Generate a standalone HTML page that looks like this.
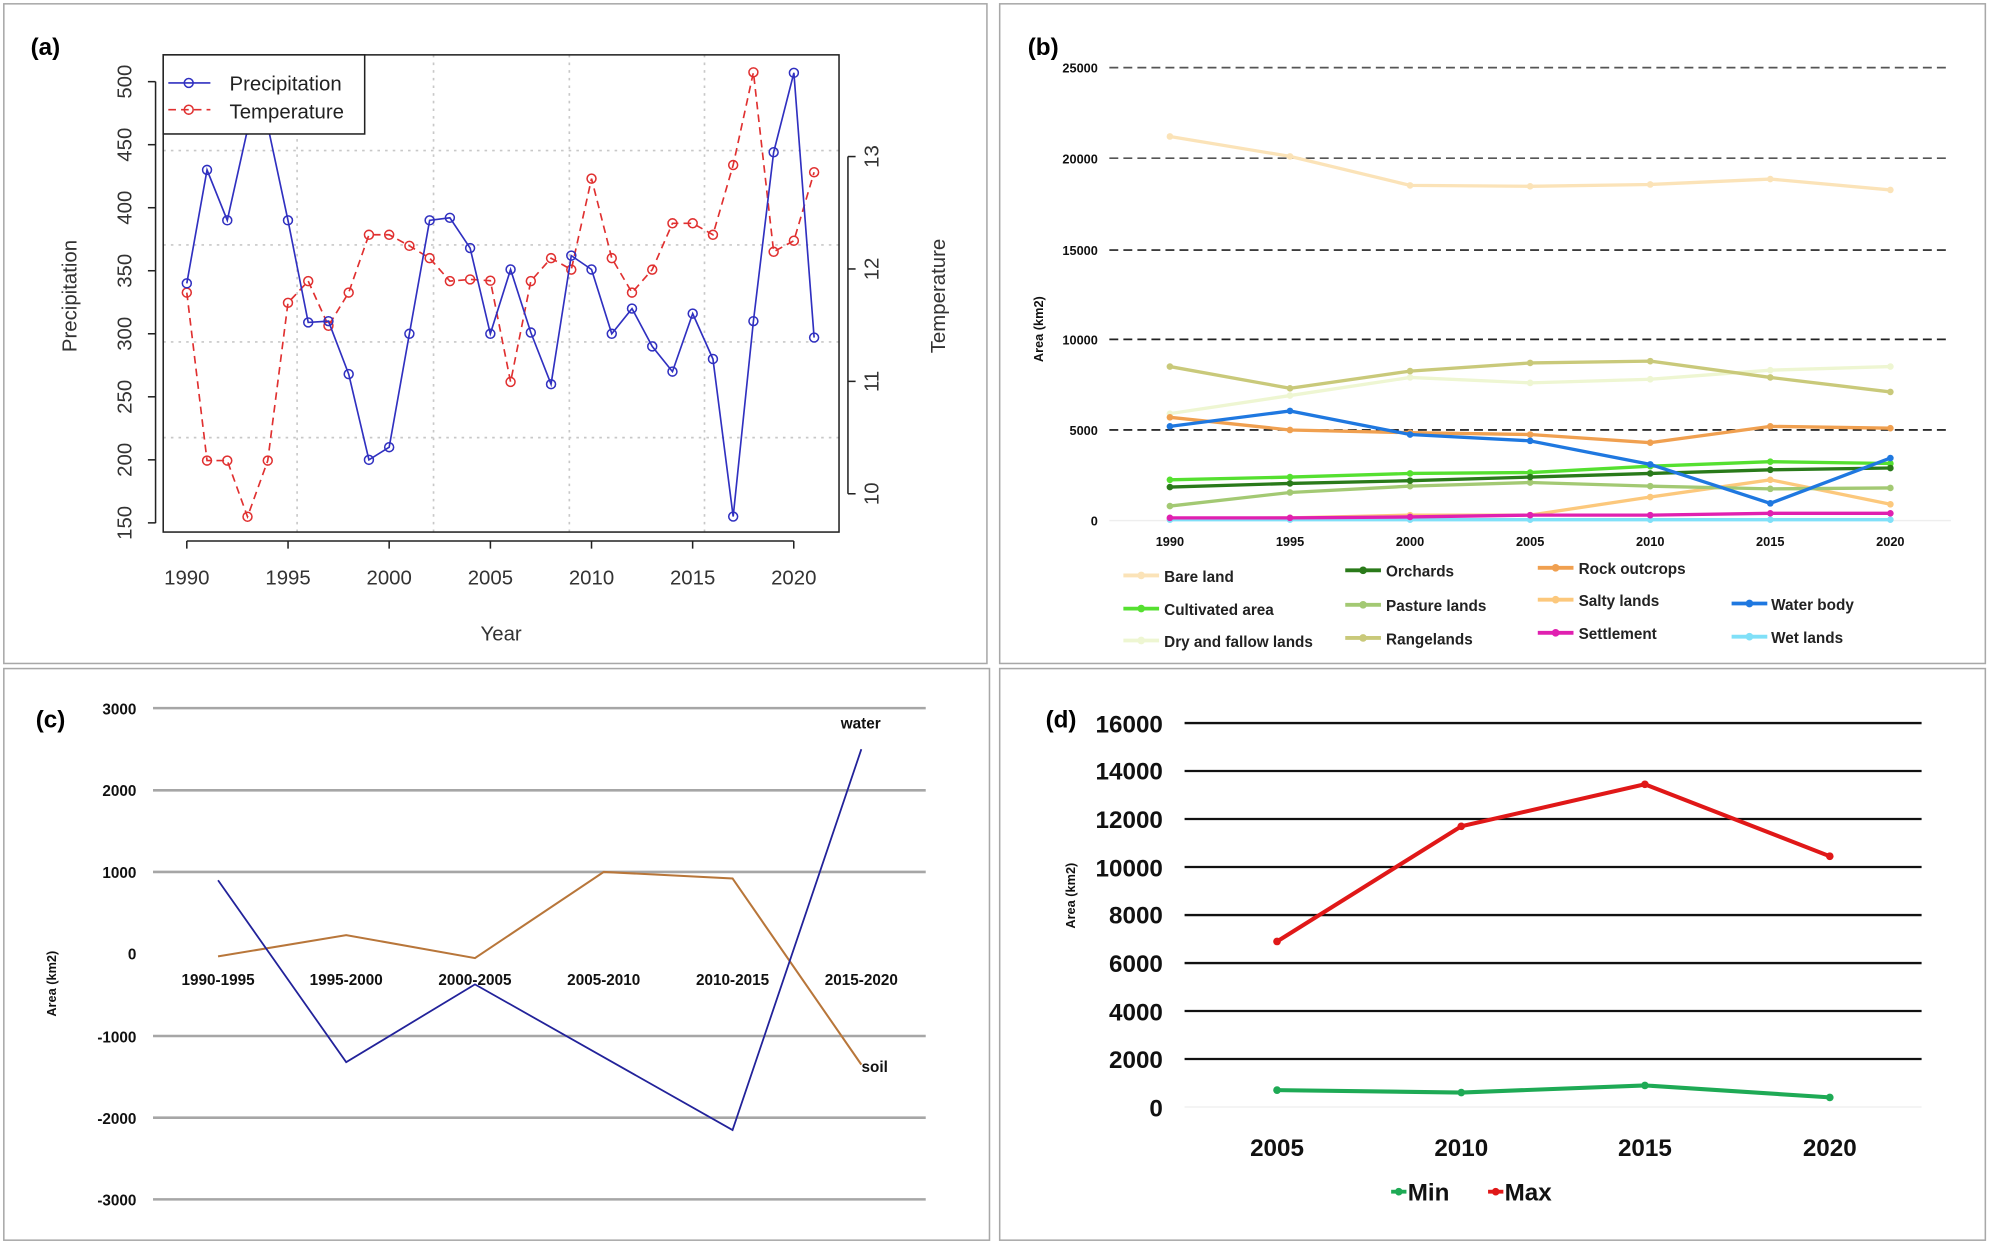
<!DOCTYPE html>
<html><head><meta charset="utf-8"><style>
html,body{margin:0;padding:0;background:#fff;}
svg{display:block;}
text{font-family:"Liberation Sans",sans-serif;}
</style></head><body>
<svg id="s" width="1993" height="1244" viewBox="0 0 1563 975" preserveAspectRatio="none" xmlns="http://www.w3.org/2000/svg">
<rect width="1563" height="975" fill="#fff"/>
<g fill="none" stroke="#a8a8a8" stroke-width="1.2">
<rect x="3" y="3" width="771" height="517"/>
<rect x="784" y="3" width="773" height="517"/>
<rect x="3" y="524" width="773" height="448"/>
<rect x="784" y="524" width="773" height="448"/>
</g>

<!-- ===== Panel (a) ===== -->
<text x="24" y="43" font-size="19" font-weight="bold" fill="#000">(a)</text>
<g stroke="#c8c8c8" stroke-width="1.3" stroke-dasharray="2,4">
<line x1="233" y1="43" x2="233" y2="417"/><line x1="340" y1="43" x2="340" y2="417"/>
<line x1="446.5" y1="43" x2="446.5" y2="417"/><line x1="552.5" y1="43" x2="552.5" y2="417"/>
<line x1="128" y1="118" x2="658" y2="118"/><line x1="128" y1="192" x2="658" y2="192"/>
<line x1="128" y1="268" x2="658" y2="268"/><line x1="128" y1="343" x2="658" y2="343"/>
</g>
<g id="aSeries"></g>
<rect x="128" y="43" width="530" height="374" fill="none" stroke="#222" stroke-width="1.2"/>
<rect x="128" y="43" width="158" height="62" fill="#fff" stroke="#222" stroke-width="1.2"/>
<line x1="132" y1="65" x2="165" y2="65" stroke="#3030c0" stroke-width="1.3"/>
<circle cx="148" cy="65" r="3.5" fill="none" stroke="#3030c0" stroke-width="1.2"/>
<line x1="132" y1="86" x2="165" y2="86" stroke="#e03030" stroke-width="1.3" stroke-dasharray="6,4"/>
<circle cx="148" cy="86" r="3.5" fill="none" stroke="#e03030" stroke-width="1.2"/>
<text x="180" y="71" font-size="16" fill="#222">Precipitation</text>
<text x="180" y="93" font-size="16" fill="#222">Temperature</text>
<g stroke="#222" stroke-width="1.2">
<line x1="122" y1="64" x2="122" y2="410"/>
<line x1="116" y1="64" x2="122" y2="64"/><line x1="116" y1="113.4" x2="122" y2="113.4"/>
<line x1="116" y1="162.8" x2="122" y2="162.8"/><line x1="116" y1="212.2" x2="122" y2="212.2"/>
<line x1="116" y1="261.6" x2="122" y2="261.6"/><line x1="116" y1="311" x2="122" y2="311"/>
<line x1="116" y1="360.4" x2="122" y2="360.4"/><line x1="116" y1="409.8" x2="122" y2="409.8"/>
<line x1="665" y1="122.7" x2="665" y2="387"/>
<line x1="665" y1="122.7" x2="671" y2="122.7"/><line x1="665" y1="210.8" x2="671" y2="210.8"/>
<line x1="665" y1="298.9" x2="671" y2="298.9"/><line x1="665" y1="387" x2="671" y2="387"/>
<line x1="146.5" y1="424" x2="622.5" y2="424"/>
<line x1="146.5" y1="424" x2="146.5" y2="430"/><line x1="225.9" y1="424" x2="225.9" y2="430"/>
<line x1="305.2" y1="424" x2="305.2" y2="430"/><line x1="384.6" y1="424" x2="384.6" y2="430"/>
<line x1="463.9" y1="424" x2="463.9" y2="430"/><line x1="543.2" y1="424" x2="543.2" y2="430"/>
<line x1="622.5" y1="424" x2="622.5" y2="430"/>
</g>
<g font-size="16" fill="#333" text-anchor="middle">
<text transform="translate(103,64) rotate(-90)">500</text>
<text transform="translate(103,113.4) rotate(-90)">450</text>
<text transform="translate(103,162.8) rotate(-90)">400</text>
<text transform="translate(103,212.2) rotate(-90)">350</text>
<text transform="translate(103,261.6) rotate(-90)">300</text>
<text transform="translate(103,311) rotate(-90)">250</text>
<text transform="translate(103,360.4) rotate(-90)">200</text>
<text transform="translate(103,409.8) rotate(-90)">150</text>
<text transform="translate(60,232) rotate(-90)">Precipitation</text>
<text transform="translate(689,122.7) rotate(-90)">13</text>
<text transform="translate(689,210.8) rotate(-90)">12</text>
<text transform="translate(689,298.9) rotate(-90)">11</text>
<text transform="translate(689,387) rotate(-90)">10</text>
<text transform="translate(741,232) rotate(-90)">Temperature</text>
<text x="146.5" y="458">1990</text><text x="225.9" y="458">1995</text>
<text x="305.2" y="458">2000</text><text x="384.6" y="458">2005</text>
<text x="463.9" y="458">2010</text><text x="543.2" y="458">2015</text>
<text x="622.5" y="458">2020</text>
<text x="393" y="502">Year</text>
</g>

<!-- ===== Panel (b) ===== -->
<text x="806" y="43" font-size="19" font-weight="bold">(b)</text>
<g stroke="#555" stroke-width="1.3" stroke-dasharray="7,4">
<line x1="870" y1="53" x2="1530" y2="53"/><line x1="870" y1="124" x2="1530" y2="124"/>
<line x1="870" y1="196" x2="1530" y2="196" stroke="#222"/><line x1="870" y1="266" x2="1530" y2="266" stroke="#222"/>
<line x1="870" y1="337" x2="1530" y2="337" stroke="#111"/>
</g>
<line x1="870" y1="408" x2="1530" y2="408" stroke="#eee" stroke-width="1"/>
<g font-size="10" font-weight="bold" text-anchor="end" fill="#111">
<text x="861" y="57">25000</text><text x="861" y="128">20000</text><text x="861" y="200">15000</text>
<text x="861" y="270">10000</text><text x="861" y="341">5000</text><text x="861" y="412">0</text>
</g>
<g font-size="10" font-weight="bold" text-anchor="middle" fill="#111">
<text x="917.5" y="428">1990</text><text x="1011.7" y="428">1995</text><text x="1105.8" y="428">2000</text>
<text x="1200" y="428">2005</text><text x="1294.2" y="428">2010</text><text x="1388.3" y="428">2015</text>
<text x="1482.5" y="428">2020</text>
<text transform="translate(818,258) rotate(-90)" font-size="10">Area (km2)</text>
</g>
<g id="bSeries"></g>
<g font-size="12" font-weight="bold" fill="#222">
<text x="913" y="456">Bare land</text><text x="1087" y="452">Orchards</text><text x="1238" y="450">Rock outcrops</text>
<text x="913" y="482">Cultivated area</text><text x="1087" y="479">Pasture lands</text><text x="1238" y="475">Salty lands</text><text x="1389" y="478">Water body</text>
<text x="913" y="507">Dry and fallow lands</text><text x="1087" y="505">Rangelands</text><text x="1238" y="501">Settlement</text><text x="1389" y="504">Wet lands</text>
</g>
<g id="bLegend"></g>

<!-- ===== Panel (c) ===== -->
<text x="28" y="570" font-size="19" font-weight="bold">(c)</text>
<g stroke="#a6a6a6" stroke-width="2">
<line x1="120" y1="555" x2="726" y2="555"/><line x1="120" y1="619.4" x2="726" y2="619.4"/>
<line x1="120" y1="683.4" x2="726" y2="683.4"/><line x1="120" y1="812" x2="726" y2="812"/>
<line x1="120" y1="876" x2="726" y2="876"/><line x1="120" y1="940" x2="726" y2="940"/>
</g>
<g font-size="12" font-weight="bold" text-anchor="end" fill="#111">
<text x="107" y="560">3000</text><text x="107" y="624">2000</text><text x="107" y="688">1000</text>
<text x="107" y="752">0</text><text x="107" y="817">-1000</text><text x="107" y="881">-2000</text><text x="107" y="945">-3000</text>
</g>
<g font-size="12" font-weight="bold" text-anchor="middle" fill="#111">
<text x="171" y="772">1990-1995</text><text x="271.5" y="772">1995-2000</text><text x="372.5" y="772">2000-2005</text>
<text x="473.5" y="772">2005-2010</text><text x="574.5" y="772">2010-2015</text><text x="675.5" y="772">2015-2020</text>
<text transform="translate(44,771) rotate(-90)" font-size="10">Area (km2)</text>
<text x="675" y="571">water</text><text x="686" y="840">soil</text>
</g>
<polyline fill="none" stroke="#b8763a" stroke-width="1.6" points="171,749.6 271.5,732.9 372.5,750.9 473.5,683.4 574.5,688.5 675.5,834.4"/>
<polyline fill="none" stroke="#22229a" stroke-width="1.4" points="171,689.9 271.5,832.5 372.5,771.5 574.5,885.7 675.5,587.2"/>

<!-- ===== Panel (d) ===== -->
<text x="820" y="570" font-size="19" font-weight="bold">(d)</text>
<g stroke="#111" stroke-width="1.8">
<line x1="929" y1="566.7" x2="1507" y2="566.7"/><line x1="929" y1="604.3" x2="1507" y2="604.3"/>
<line x1="929" y1="641.9" x2="1507" y2="641.9"/><line x1="929" y1="679.5" x2="1507" y2="679.5"/>
<line x1="929" y1="717.2" x2="1507" y2="717.2"/><line x1="929" y1="754.8" x2="1507" y2="754.8"/>
<line x1="929" y1="792.4" x2="1507" y2="792.4"/><line x1="929" y1="830" x2="1507" y2="830"/>
</g>
<line x1="929" y1="867.6" x2="1507" y2="867.6" stroke="#eee" stroke-width="1"/>
<g font-size="19" font-weight="bold" text-anchor="end" fill="#111">
<text x="912" y="574">16000</text><text x="912" y="611">14000</text><text x="912" y="649">12000</text>
<text x="912" y="687">10000</text><text x="912" y="724">8000</text><text x="912" y="762">6000</text>
<text x="912" y="800">4000</text><text x="912" y="837">2000</text><text x="912" y="875">0</text>
</g>
<g font-size="19" font-weight="bold" text-anchor="middle" fill="#111">
<text x="1001.5" y="906">2005</text><text x="1146" y="906">2010</text><text x="1290" y="906">2015</text><text x="1435" y="906">2020</text>
<text transform="translate(843,702) rotate(-90)" font-size="10">Area (km2)</text>
</g>
<polyline fill="none" stroke="#e01818" stroke-width="3.2" points="1001.5,737.9 1146,647.6 1290,614.7 1435,671.1"/>
<polyline fill="none" stroke="#1eaa55" stroke-width="3.2" points="1001.5,854.4 1146,856.3 1290,850.7 1435,860.1"/>
<g fill="#e01818"><circle cx="1001.5" cy="737.9" r="3"/><circle cx="1146" cy="647.6" r="3"/><circle cx="1290" cy="614.7" r="3"/><circle cx="1435" cy="671.1" r="3"/></g>
<g fill="#1eaa55"><circle cx="1001.5" cy="854.4" r="3"/><circle cx="1146" cy="856.3" r="3"/><circle cx="1290" cy="850.7" r="3"/><circle cx="1435" cy="860.1" r="3"/></g>
<line x1="1091" y1="934" x2="1103" y2="934" stroke="#1eaa55" stroke-width="3"/><circle cx="1097" cy="934" r="3" fill="#1eaa55"/>
<line x1="1167" y1="934" x2="1179" y2="934" stroke="#e01818" stroke-width="3"/><circle cx="1173" cy="934" r="3" fill="#e01818"/>
<g font-size="19" font-weight="bold" fill="#111"><text x="1104" y="941">Min</text><text x="1180" y="941">Max</text></g>
</svg>
<script>
(function(){
var NS="http://www.w3.org/2000/svg";
function el(p,n,a){var e=document.createElementNS(NS,n);for(var k in a)e.setAttribute(k,a[k]);p.appendChild(e);return e;}
var g=document.getElementById("aSeries");
var pr=[340,430,390,462,465,390,309,310,268,200,210,300,390,392,368,300,351,301,260,362,351,300,320,290,270,316,280,155,310,444,507,297];
var td=[688,1083,1083,1215,1083,712,661,766,688,552,552,578,607,661,657,660,898,661,607,634,420,607,688,634,525,525,552,388,170,592,566,405];
var pp=[],tp=[];
for(var i=0;i<32;i++){var x=146.5+i*15.87;pp.push([x,64+(500-pr[i])*0.988]);tp.push([x,td[i]/3]);}
el(g,"polyline",{points:tp.map(function(p){return p.join(",")}).join(" "),fill:"none",stroke:"#e03030","stroke-width":1.3,"stroke-dasharray":"6,4"});
tp.forEach(function(p){el(g,"circle",{cx:p[0],cy:p[1],r:3.5,fill:"none",stroke:"#e03030","stroke-width":1.2});});
el(g,"polyline",{points:pp.map(function(p){return p.join(",")}).join(" "),fill:"none",stroke:"#3030c0","stroke-width":1.3});
pp.forEach(function(p){el(g,"circle",{cx:p[0],cy:p[1],r:3.5,fill:"none",stroke:"#3030c0","stroke-width":1.2});});
var b=document.getElementById("bSeries");
var S=[
["#fbe3b8",[21200,20100,18500,18450,18550,18850,18250]],
["#eef6d2",[5900,6900,7900,7600,7800,8300,8500]],
["#c9c97a",[8500,7300,8250,8700,8800,7900,7100]],
["#fcc87c",[100,150,300,300,1300,2250,900]],
["#a3c973",[800,1550,1900,2100,1900,1750,1800]],
["#f0a050",[5700,5000,4850,4750,4300,5200,5100]],
["#55e030",[2250,2400,2600,2650,3000,3250,3150]],
["#2a7a1a",[1850,2050,2200,2400,2600,2800,2900]],
["#1f78e0",[5200,6050,4750,4400,3100,950,3450]],
["#80e0f8",[50,50,50,50,50,50,50]],
["#e020b0",[150,150,200,300,300,400,400]]
];
S.forEach(function(s){var pts=s[1].map(function(v,i){return [917.5+i*94.17,408-v*71/5000];});
el(b,"polyline",{points:pts.map(function(p){return p.join(",")}).join(" "),fill:"none",stroke:s[0],"stroke-width":2.6});
pts.forEach(function(p){el(b,"circle",{cx:p[0],cy:p[1],r:2.6,fill:s[0]});});});
var L=document.getElementById("bLegend");
var LG=[["#fbe3b8",881,451],["#2a7a1a",1055,447],["#f0a050",1206,445],["#55e030",881,477],["#a3c973",1055,474],["#fcc87c",1206,470],["#1f78e0",1358,473],["#eef6d2",881,502],["#c9c97a",1055,500],["#e020b0",1206,496],["#80e0f8",1358,499]];
LG.forEach(function(l){el(L,"line",{x1:l[1],y1:l[2],x2:l[1]+28,y2:l[2],stroke:l[0],"stroke-width":3});el(L,"circle",{cx:l[1]+14,cy:l[2],r:3,fill:l[0]});});
})();
</script>
</body></html>
